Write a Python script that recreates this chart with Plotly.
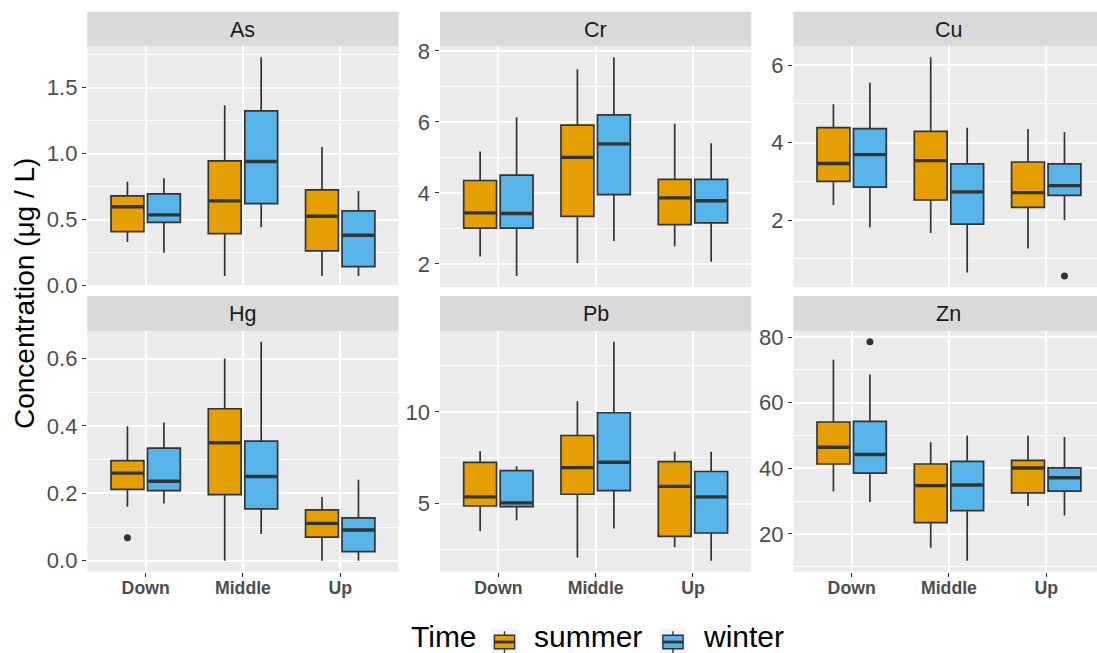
import plotly.graph_objects as go

# Sampling sites (x categories) and seasons
sites = ["Down", "Middle", "Up"]
seasons = ["summer", "winter"]
season_colors = {"summer": "#E69F00", "winter": "#56B4E9"}
metals = ["As", "Cr", "Cu", "Hg", "Pb", "Zn"]

# Box statistics per metal and season, ordered as Down, Middle, Up
as_summer = {"lower": [0.33, 0.073, 0.073], "q1": [0.41, 0.394, 0.263], "median": [0.598, 0.642, 0.526],
             "q3": [0.68, 0.945, 0.725], "upper": [0.788, 1.367, 1.05]}
as_winter = {"lower": [0.25, 0.442, 0.073], "q1": [0.48, 0.621, 0.144], "median": [0.536, 0.94, 0.382],
             "q3": [0.695, 1.324, 0.566], "upper": [0.813, 1.73, 0.717]}

cr_summer = {"lower": [2.21, 2.03, 2.50], "q1": [3.01, 3.34, 3.11], "median": [3.44, 5.0, 3.86],
             "q3": [4.35, 5.91, 4.38], "upper": [5.17, 7.48, 5.95]}
cr_winter = {"lower": [1.66, 2.65, 2.06], "q1": [3.01, 3.95, 3.16], "median": [3.42, 5.38, 3.78],
             "q3": [4.50, 6.20, 4.38], "upper": [6.13, 7.82, 5.40]}

cu_summer = {"lower": [2.39, 1.67, 1.27], "q1": [3.0, 2.52, 2.33], "median": [3.46, 3.535, 2.71],
             "q3": [4.385, 4.29, 3.50], "upper": [4.99, 6.20, 4.35]}
cu_winter = {"lower": [1.82, 0.65, 2.0], "q1": [2.85, 1.90, 2.64], "median": [3.69, 2.73, 2.89],
             "q3": [4.36, 3.45, 3.45], "upper": [5.54, 4.38, 4.27]}

hg_summer = {"lower": [0.16, 0.0, 0.0], "q1": [0.212, 0.196, 0.070], "median": [0.26, 0.35, 0.111],
             "q3": [0.297, 0.451, 0.151], "upper": [0.399, 0.60, 0.189]}
hg_winter = {"lower": [0.17, 0.079, 0.0], "q1": [0.208, 0.154, 0.027], "median": [0.236, 0.25, 0.091],
             "q3": [0.334, 0.355, 0.127], "upper": [0.41, 0.65, 0.24]}

pb_summer = {"lower": [3.51, 2.07, 2.62], "q1": [4.87, 5.51, 3.22], "median": [5.37, 6.96, 5.94],
             "q3": [7.25, 8.71, 7.29], "upper": [7.85, 10.58, 7.82]}
pb_winter = {"lower": [4.09, 3.65, 1.89], "q1": [4.84, 5.71, 3.40], "median": [5.04, 7.25, 5.37],
             "q3": [6.80, 9.95, 6.75], "upper": [7.03, 13.82, 7.82]}

zn_summer = {"lower": [32.9, 15.8, 28.5], "q1": [41.3, 23.4, 32.5], "median": [46.4, 34.7, 40.1],
             "q3": [54.1, 41.3, 42.4], "upper": [73.1, 47.9, 50.0]}
zn_winter = {"lower": [29.7, 11.8, 25.6], "q1": [38.5, 27.1, 33.0], "median": [44.2, 34.9, 37.1],
             "q3": [54.3, 42.1, 40.1], "upper": [68.6, 50.0, 49.5]}

# Points beyond the whiskers: (metal, season, site, value)
outliers = [("Cu", "winter", "Up", 0.56), ("Hg", "summer", "Down", 0.068), ("Zn", "winter", "Down", 78.6)]

# y-axis break spacing per metal
y_dtick = {"As": 0.5, "Cr": 2, "Cu": 2, "Hg": 0.2, "Pb": 5, "Zn": 20}
y_format = {"As": ".1f", "Cr": "d", "Cu": "d", "Hg": ".1f", "Pb": "d", "Zn": "d"}

stats = {
    ("As", "summer"): as_summer, ("As", "winter"): as_winter,
    ("Cr", "summer"): cr_summer, ("Cr", "winter"): cr_winter,
    ("Cu", "summer"): cu_summer, ("Cu", "winter"): cu_winter,
    ("Hg", "summer"): hg_summer, ("Hg", "winter"): hg_winter,
    ("Pb", "summer"): pb_summer, ("Pb", "winter"): pb_winter,
    ("Zn", "summer"): zn_summer, ("Zn", "winter"): zn_winter,
}

# ---- page geometry (pixels) ----
W, H = 1097, 653
FONT = "Liberation Sans, Arial, sans-serif"
LINE = "#333333"
TICK_TXT = "#4D4D4D"


def fx(p):
    return p / W


def fy(p):
    return 1 - p / H


col_px = [(87.3, 398.6), (440.0, 751.3), (793.3, 1104.6)]
row_px = [(46.3, 287.0), (330.7, 571.7)]
strip_px = [(11.7, 46.3), (296.0, 330.7)]
X_LO, X_HI = 0.4, 3.6
DODGE = 0.1875
BOX_W = 0.3375

fig = go.Figure()
layout_axes = {}
shapes = []
annotations = []

for k, metal in enumerate(metals):
    r, c = divmod(k, 3)
    idx = "" if k == 0 else str(k + 1)
    xa, ya = "x" + idx, "y" + idx
    x0p, x1p = col_px[c]
    y0p, y1p = row_px[r]

    # panel may run past the page edge; clip domain and keep the same scale
    x1_clip = min(x1p, W)
    x_hi = X_LO + (X_HI - X_LO) * (x1_clip - x0p) / (x1p - x0p)

    vals = []
    for s in seasons:
        st = stats[(metal, s)]
        vals += st["lower"] + st["upper"]
    vals += [o[3] for o in outliers if o[0] == metal]
    vmin, vmax = min(vals), max(vals)
    pad = 0.05 * (vmax - vmin)

    for s, off in zip(seasons, (-DODGE, DODGE)):
        st = stats[(metal, s)]
        xs = [i + 1 + off for i in range(len(sites))]
        fig.add_trace(go.Box(
            x=xs, q1=st["q1"], median=st["median"], q3=st["q3"],
            lowerfence=st["lower"], upperfence=st["upper"],
            orientation="v", width=BOX_W, whiskerwidth=0, boxpoints=False,
            fillcolor=season_colors[s], line=dict(color=LINE, width=1.7),
            xaxis=xa, yaxis=ya, showlegend=False, name=s, hoverinfo="skip",
        ))
        mx, my = [], []
        for x, m in zip(xs, st["median"]):
            mx += [x - BOX_W / 2 + 0.01, x + BOX_W / 2 - 0.01, None]
            my += [m, m, None]
        fig.add_trace(go.Scatter(
            x=mx, y=my, mode="lines", line=dict(color=LINE, width=3.4),
            xaxis=xa, yaxis=ya, showlegend=False, hoverinfo="skip",
        ))
        ox = [sites.index(o[2]) + 1 + off for o in outliers if o[0] == metal and o[1] == s]
        oy = [o[3] for o in outliers if o[0] == metal and o[1] == s]
        if ox:
            fig.add_trace(go.Scatter(
                x=ox, y=oy, mode="markers", marker=dict(size=7, color=LINE),
                xaxis=xa, yaxis=ya, showlegend=False, hoverinfo="skip",
            ))

    bottom = r == 1
    layout_axes["xaxis" + idx] = dict(
        domain=[fx(x0p), fx(x1_clip)], range=[X_LO, x_hi], anchor=ya,
        tickmode="array", tickvals=[1, 2, 3], ticktext=sites,
        showticklabels=bottom, ticks="outside" if bottom else "",
        ticklen=4.5, tickwidth=1.3, tickcolor=LINE, ticklabelstandoff=-4,
        tickfont=dict(family=FONT, size=17.7, color=TICK_TXT, weight="bold"),
        showgrid=True, gridcolor="white", gridwidth=1.6,
        zeroline=False, showline=False, fixedrange=True, automargin=False,
    )
    dt = y_dtick[metal]
    layout_axes["yaxis" + idx] = dict(
        domain=[fy(y1p), fy(y0p)], range=[vmin - pad, vmax + pad], anchor=xa,
        tick0=0, dtick=dt, tickformat=y_format[metal],
        ticks="outside", ticklen=4.5, tickwidth=1.3, tickcolor=LINE,
        tickfont=dict(family=FONT, size=22, color=TICK_TXT),
        showgrid=True, gridcolor="white", gridwidth=1.6,
        minor=dict(tick0=0, dtick=dt / 2, showgrid=True, gridcolor="white", gridwidth=0.8),
        zeroline=False, showline=False, fixedrange=True, automargin=False,
    )

    # facet strip
    s0, s1 = strip_px[r]
    shapes.append(dict(type="rect", xref="paper", yref="paper",
                       x0=fx(x0p), x1=fx(x1_clip), y0=fy(s1), y1=fy(s0),
                       fillcolor="#D9D9D9", line=dict(width=0), layer="below"))
    annotations.append(dict(text=metal, xref="paper", yref="paper",
                            x=fx((x0p + x1p) / 2), y=fy((s0 + s1) / 2 + 1),
                            xanchor="center", yanchor="middle", showarrow=False,
                            font=dict(family=FONT, size=21.5, color="#1A1A1A")))

# y-axis title
annotations.append(dict(text="Concentration (μg / L)", xref="paper", yref="paper",
                        x=fx(24), y=fy(294), textangle=-90, xanchor="center", yanchor="middle",
                        showarrow=False, font=dict(family=FONT, size=28, color="black")))

# legend: title, keys and labels
LEG_TEXT_Y = 636
KEY_TOP = 628.5
annotations.append(dict(text="Time", xref="paper", yref="paper", x=fx(409), y=fy(LEG_TEXT_Y),
                        xanchor="left", yanchor="middle", showarrow=False,
                        font=dict(family=FONT, size=30, color="black")))
key_left = {"summer": 491.0, "winter": 659.5}
label_left = {"summer": 532.0, "winter": 701.0}
KEY = 27.0
for s in seasons:
    kx = key_left[s]
    ky0 = KEY_TOP
    shapes.append(dict(type="rect", xref="paper", yref="paper",
                       x0=fx(kx), x1=fx(kx + KEY), y0=fy(ky0 + KEY), y1=fy(ky0),
                       fillcolor="#F2F2F2", line=dict(width=0)))
    cx = kx + KEY / 2
    shapes.append(dict(type="line", xref="paper", yref="paper",
                       x0=fx(cx), x1=fx(cx), y0=fy(ky0 + 0.9 * KEY), y1=fy(ky0 + 0.1 * KEY),
                       line=dict(color=LINE, width=1.4)))
    shapes.append(dict(type="rect", xref="paper", yref="paper",
                       x0=fx(kx + 0.125 * KEY), x1=fx(kx + 0.875 * KEY),
                       y0=fy(ky0 + 0.75 * KEY), y1=fy(ky0 + 0.25 * KEY),
                       fillcolor=season_colors[s], line=dict(color=LINE, width=1.4)))
    shapes.append(dict(type="line", xref="paper", yref="paper",
                       x0=fx(kx + 0.125 * KEY), x1=fx(kx + 0.875 * KEY),
                       y0=fy(ky0 + 0.5 * KEY), y1=fy(ky0 + 0.5 * KEY),
                       line=dict(color=LINE, width=2.8)))
    annotations.append(dict(text=s, xref="paper", yref="paper", x=fx(label_left[s]), y=fy(LEG_TEXT_Y),
                            xanchor="left", yanchor="middle", showarrow=False,
                            font=dict(family=FONT, size=30, color="black")))

fig.update_layout(
    width=W, height=H, autosize=False,
    margin=dict(l=0, r=0, t=0, b=0, pad=0, autoexpand=False),
    paper_bgcolor="white", plot_bgcolor="#EBEBEB",
    boxmode="overlay", showlegend=False,
    font=dict(family=FONT),
    shapes=shapes, annotations=annotations,
    **layout_axes,
)

fig.write_html("out.html", include_plotlyjs=True, config={"displayModeBar": False})
